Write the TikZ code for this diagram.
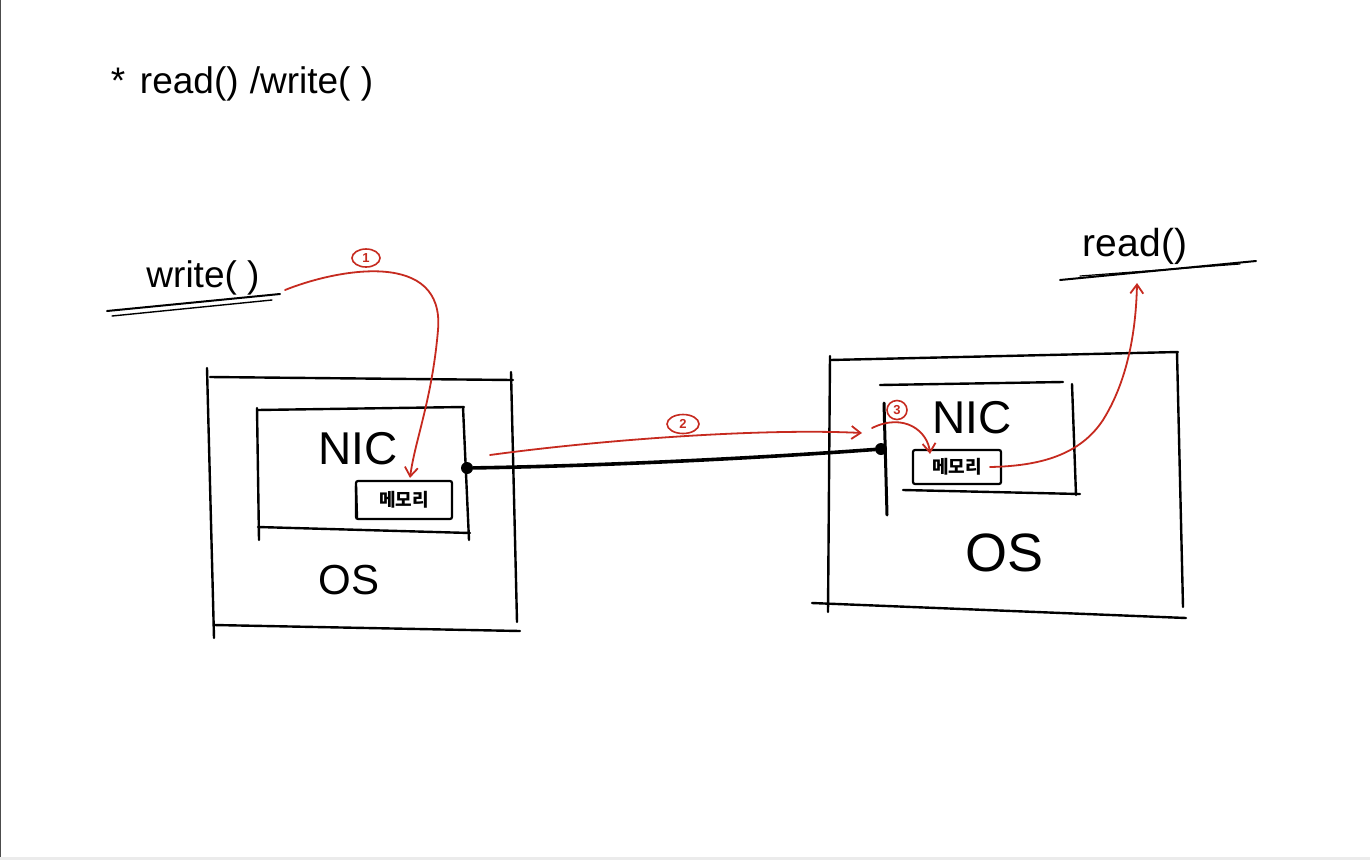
\documentclass[tikz,border=0pt]{standalone}
\usepackage{fontspec}
\setmainfont{Liberation Sans}
\newfontfamily\krfont{Noto Sans CJK KR}
\usetikzlibrary{arrows.meta,shapes.geometric}
\definecolor{redink}{HTML}{C62A1F}
\newcommand{\fs}[1]{\fontsize{#1}{#1}\selectfont}
\begin{document}
\begin{tikzpicture}[x=1pt,y=-1pt,
  ink/.style={line width=2.4pt, line cap=round, line join=round, black},
  wire/.style={line width=3.6pt, line cap=round, black},
  flow/.style={draw=redink, line width=1.8pt, line cap=round,
    -{Straight Barb[length=9pt,width=13pt,line width=1.8pt]}},
  badge/.style={ellipse, draw=redink, line width=1.6pt, text=redink,
    inner sep=0.5pt, font=\fs{13}\bfseries},
  memo/.style={draw, line width=2.2pt, rounded corners=2pt, inner sep=0pt,
    font=\krfont\fs{18}\bfseries},
  dot/.style={circle, fill=black, inner sep=0pt, minimum size=12pt},
  txt/.style={inner sep=0pt}]
\useasboundingbox (0,0) rectangle (1370,860);
\fill[white] (0,0) rectangle (1370,860);
\draw[black!70, line width=1pt] (0.5,0) -- (0.5,860);
\fill[black!8] (0,857) rectangle (1370,860);

% heading
\node[txt, font=\fs{37}] (title) at (242,84) {*\hspace{0.4em}read()\hspace{0.3em}/write( )};

% caller labels with their underlines
\node[txt, font=\fs{37}] (wr) at (203,278) {write( )};
\draw[ink, line width=2pt] (107,311) -- (280,294);
\draw[ink, line width=1.4pt] (112,316) -- (272,300);
\coordinate (wrEnd) at (285,290);

\node[txt, font=\fs{39}] (rd) at (1135,246) {read()};
\draw[ink, line width=2pt] (1060,280) -- (1256,261);
\draw[ink, line width=1.2pt] (1080,276) -- (1240,264);
\coordinate (rdIn) at (1137,283);

% sender host
\draw[ink] (210,377) -- (513,380);
\draw[ink] (207,368) -- (214,638);
\draw[ink] (511,372) -- (517,622);
\draw[ink] (214,625) -- (520,631);
\node[txt, font=\fs{42}] (osL) at (349,580) {OS};

\draw[ink] (257,410) -- (464,407);
\draw[ink] (257,408) -- (259,540);
\draw[ink] (463,407) -- (469,540);
\draw[ink] (258,527) -- (470,533);
\node[txt, font=\fs{46}] (nicL) at (358,449) {NIC};
\node[memo, minimum width=96pt, minimum height=38pt] (memL) at (404,500) {메모리};
\draw[ink] (356,486) -- (357,518);

% receiver host
\draw[ink] (830,360) -- (1178,352);
\draw[ink] (830,356) -- (828,612);
\draw[ink] (1177,352) -- (1183,607);
\draw[ink] (812,603) -- (1186,618);
\node[txt, font=\fs{54}] (osR) at (1004,553) {OS};

\draw[ink] (880,385) -- (1063,382);
\draw[ink] (1072,384) -- (1076,495);
\draw[ink] (903,490) -- (1080,494);
\draw[ink, line width=3pt] (884,403) -- (887,515);
\node[txt, font=\fs{46}] (nicR) at (972,418) {NIC};
\node[memo, minimum width=88pt, minimum height=34pt] (memR) at (957,467) {메모리};

% network cable between the two cards
\node[dot] (portL) at (467,468) {};
\node[dot] (portR) at (881,449) {};
\draw[wire] (portL) .. controls (600,466) and (760,458) .. (portR);

% data path
\draw[flow] (wrEnd) .. controls (340,268) and (445,250) .. (438,330)
  .. controls (432,400) and (415,440) .. ([xshift=6pt,yshift=2pt]memL.north);
\node[badge, minimum width=28pt, minimum height=18pt] (b1) at (366,258) {1};

\coordinate (txStart) at (490,455);
\coordinate (rxEnd) at (862,433);
\draw[flow] (txStart) .. controls (600,440) and (760,428) .. (rxEnd);
\node[badge, minimum width=32pt, minimum height=19pt, fill=white] (b2) at (683,424) {2};

\coordinate (rxStart) at (872,428);
\draw[flow] (rxStart) .. controls (905,412) and (928,432) .. ([xshift=-27pt,yshift=-5pt]memR.north);
\node[badge, minimum width=20pt, minimum height=19pt] (b3) at (897,410) {3};

\draw[flow] ([xshift=-12pt]memR.east) .. controls (1040,466) and (1080,455) .. (1103,420)
  .. controls (1128,380) and (1136,330) .. (rdIn);
\end{tikzpicture}
\end{document}
